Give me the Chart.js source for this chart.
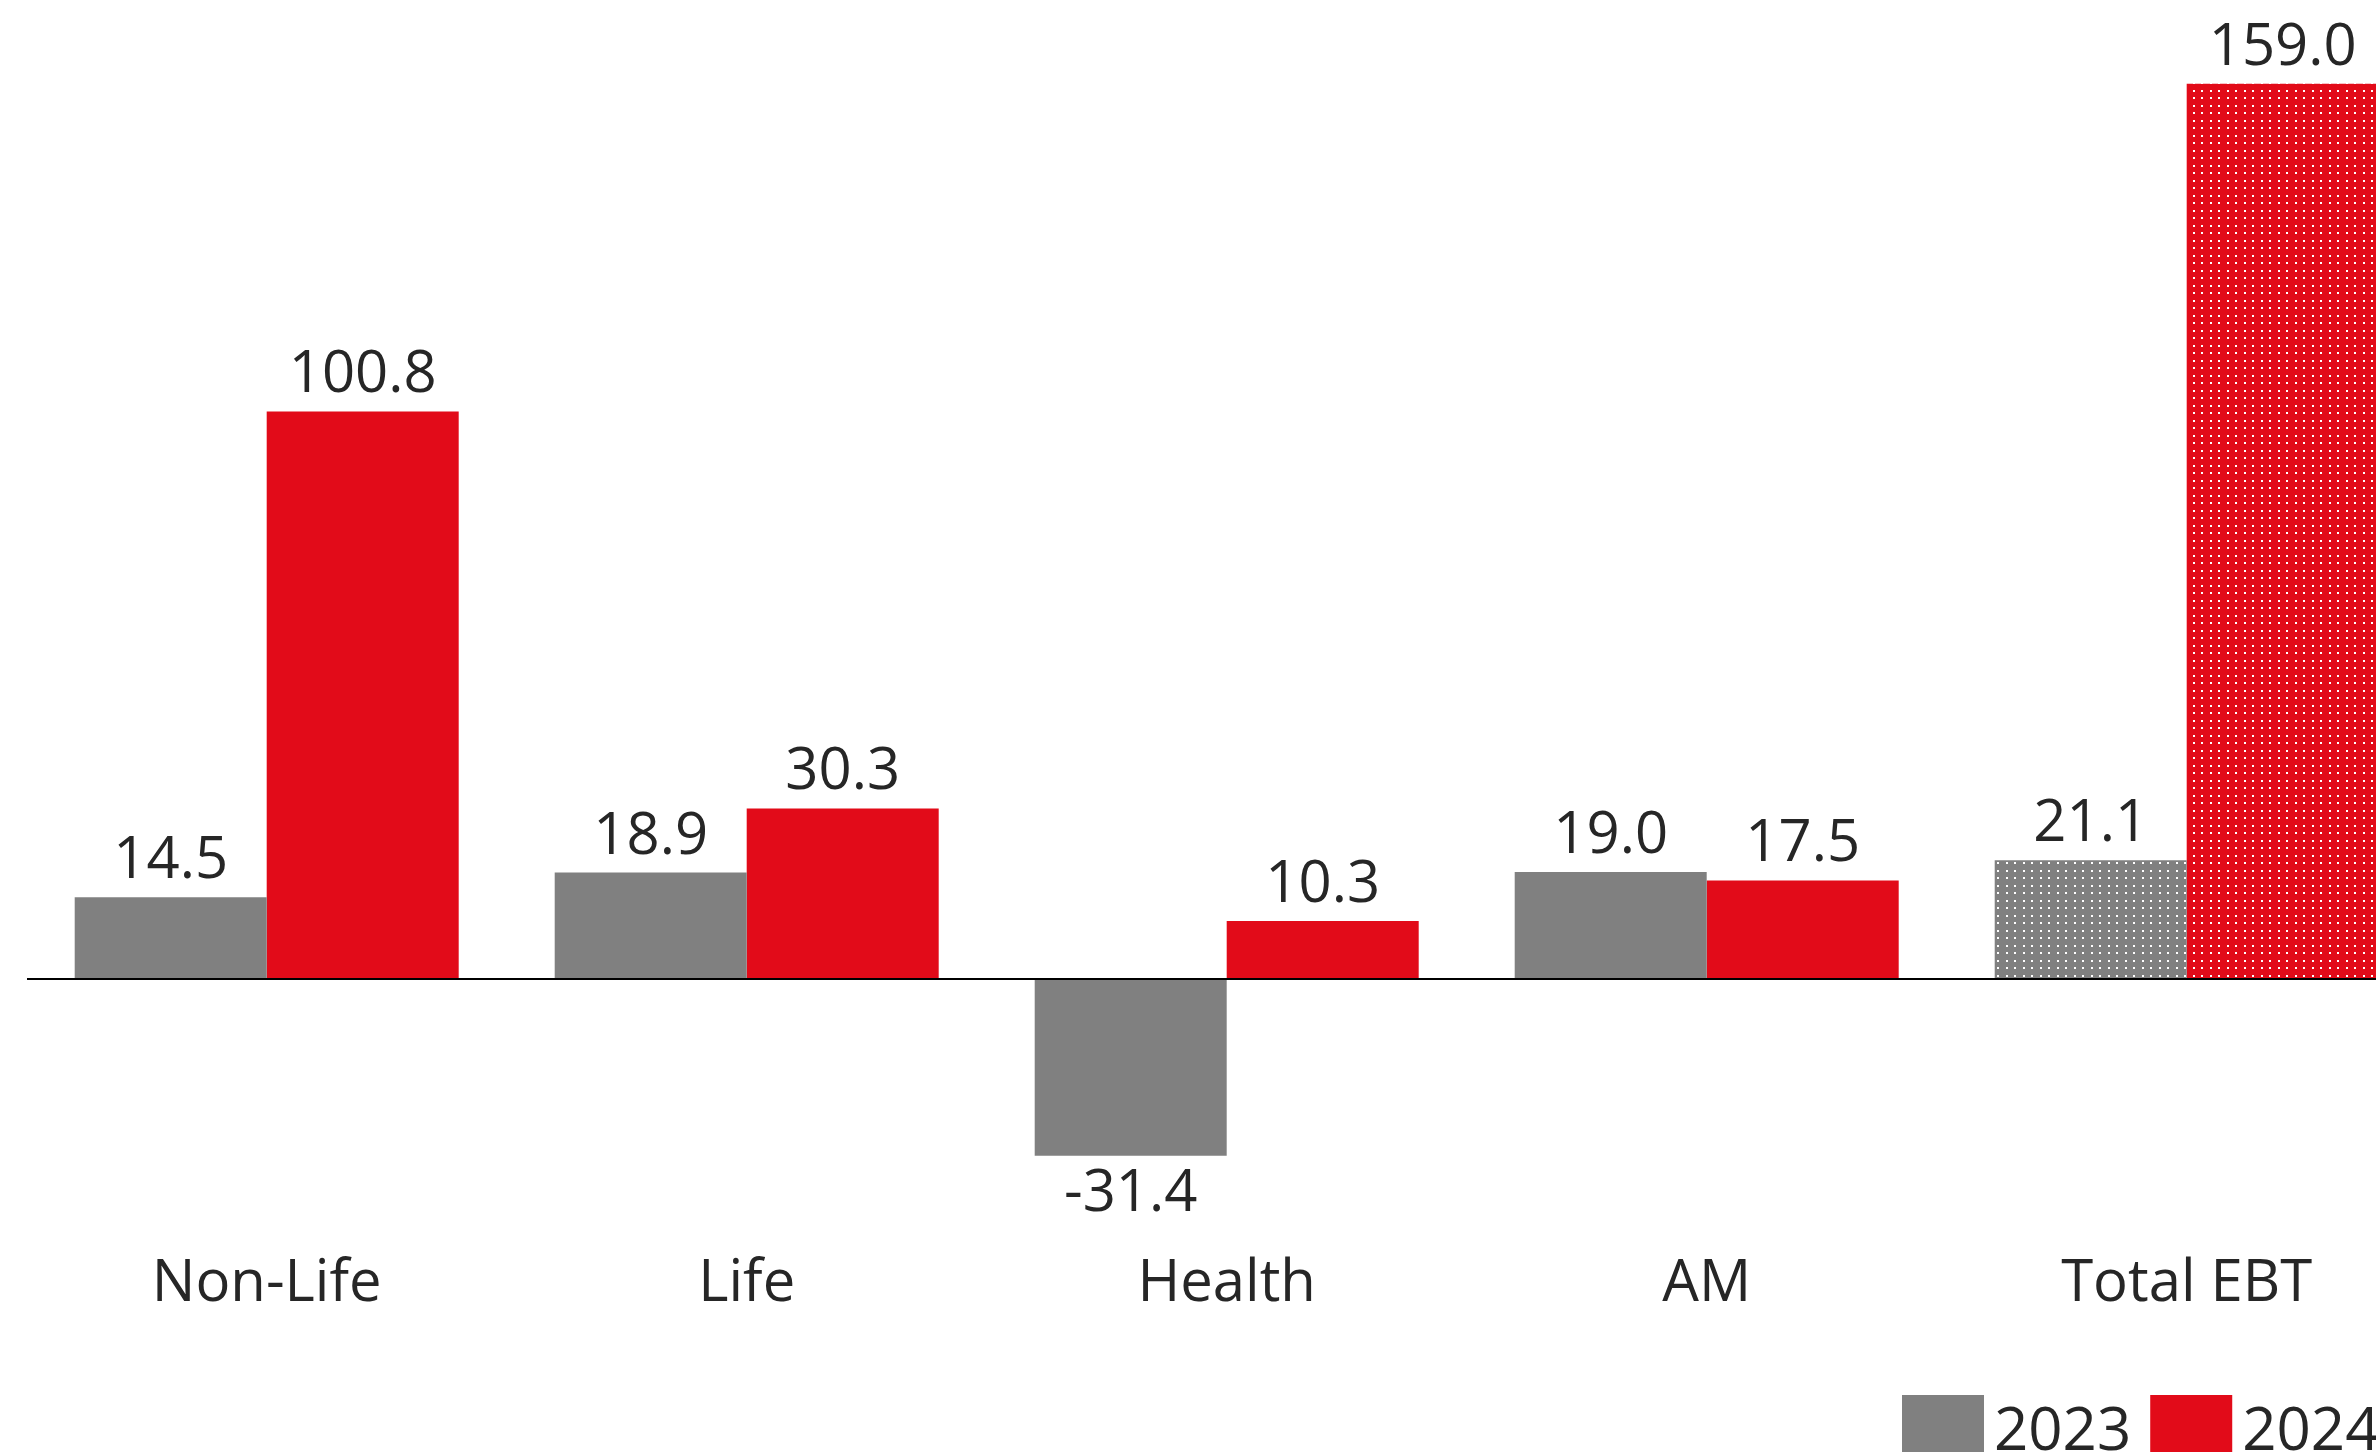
<!DOCTYPE html>
<html>
<head>
<meta charset="utf-8">
<script src="https://cdn.jsdelivr.net/npm/chart.js@4"></script>
<style>
  html, body { margin: 0; padding: 0; background: #fff; overflow: hidden; }
  #wrap { width: 2376px; height: 1452px; overflow: hidden; position: relative; }
  canvas { display: block; }
</style>
</head>
<body>
<div id="wrap"><canvas id="c" width="2440" height="1500" style="width:2440px;height:1500px"></canvas></div>
<script>
const categories = ['Non-Life', 'Life', 'Health', 'AM', 'Total EBT'];
const values2023 = [14.5, 18.9, -31.4, 19.0, 21.1];
const values2024 = [100.8, 30.3, 10.3, 17.5, 159.0];
const seriesLabels = ['2023', '2024'];

const GRAY = '#808080';
const RED = '#E20B19';
const TEXT = '#262626';
const FONT = '"Open Sans", "Noto Sans", sans-serif';

function dotPattern(base) {
  const c = document.createElement('canvas');
  c.width = 17; c.height = 15;
  const g = c.getContext('2d');
  g.fillStyle = base; g.fillRect(0, 0, 17, 15);
  g.fillStyle = '#ffffff';
  [[0,0],[8,0],[0,7],[8,7]].forEach(p => g.fillRect(p[0], p[1], 2, 2));
  return g.createPattern(c, 'repeat');
}

function colorsFor(base, n) {
  const arr = [];
  for (let i = 0; i < n; i++) arr.push(i === n - 1 ? dotPattern(base) : base);
  return arr;
}

const valueLabels = {
  id: 'valueLabels',
  afterDatasetsDraw(chart) {
    const ctx = chart.ctx;
    ctx.save();
    ctx.font = '58px ' + FONT;
    ctx.fillStyle = TEXT;
    ctx.textAlign = 'center';
    ctx.textBaseline = 'alphabetic';
    chart.data.datasets.forEach((ds, di) => {
      const meta = chart.getDatasetMeta(di);
      meta.data.forEach((bar, i) => {
        const v = ds.data[i];
        const txt = v.toFixed(1);
        if (v >= 0) ctx.fillText(txt, bar.x, bar.y - 19);
        else ctx.fillText(txt, bar.x, bar.y + 55);
      });
    });
    ctx.restore();
  }
};

const customLegend = {
  id: 'customLegend',
  afterDraw(chart) {
    const ctx = chart.ctx;
    ctx.save();
    ctx.font = '60px ' + FONT;
    ctx.textBaseline = 'alphabetic';
    ctx.textAlign = 'left';
    let x = 1902;
    const yBox = 1395, box = 82;
    chart.data.datasets.forEach(ds => {
      ctx.fillStyle = ds.legendColor;
      ctx.fillRect(x, yBox, box, box);
      x += box + 10;
      ctx.fillStyle = TEXT;
      ctx.fillText(ds.label, x, 1450);
      x += ctx.measureText(ds.label).width + 19;
    });
    ctx.restore();
  }
};

function build() {
  new Chart(document.getElementById('c'), {
    type: 'bar',
    data: {
      labels: categories,
      datasets: [
        { label: seriesLabels[0], data: values2023, backgroundColor: colorsFor(GRAY, values2023.length), legendColor: GRAY, borderWidth: 0 },
        { label: seriesLabels[1], data: values2024, backgroundColor: colorsFor(RED, values2024.length), legendColor: RED, borderWidth: 0 }
      ]
    },
    options: {
      responsive: false,
      animation: false,
      devicePixelRatio: 1,
      layout: { padding: { left: 26.7, right: 13.3, top: 21.9, bottom: 175.8 } },
      datasets: { bar: { categoryPercentage: 0.8, barPercentage: 1.0 } },
      plugins: { legend: { display: false }, tooltip: { enabled: false } },
      scales: {
        x: {
          grid: { display: false, drawTicks: false },
          border: { display: false },
          ticks: { color: TEXT, font: { family: FONT, size: 58 }, padding: 45, maxRotation: 0 },
          afterFit(scale) { scale.height = 120; }
        },
        y: {
          min: -40, max: 170,
          z: 1,
          border: { display: false },
          grid: {
            drawTicks: false,
            lineWidth: 2,
            color: ctx => (ctx.tick && ctx.tick.value === 0) ? '#000000' : 'rgba(0,0,0,0)'
          },
          ticks: { display: false, stepSize: 10, padding: 0 }
        }
      }
    },
    plugins: [valueLabels, customLegend]
  });
}

if (document.fonts && document.fonts.load) {
  document.fonts.load('60px "Open Sans"').then(build, build);
} else build();
</script>
</body>
</html>
